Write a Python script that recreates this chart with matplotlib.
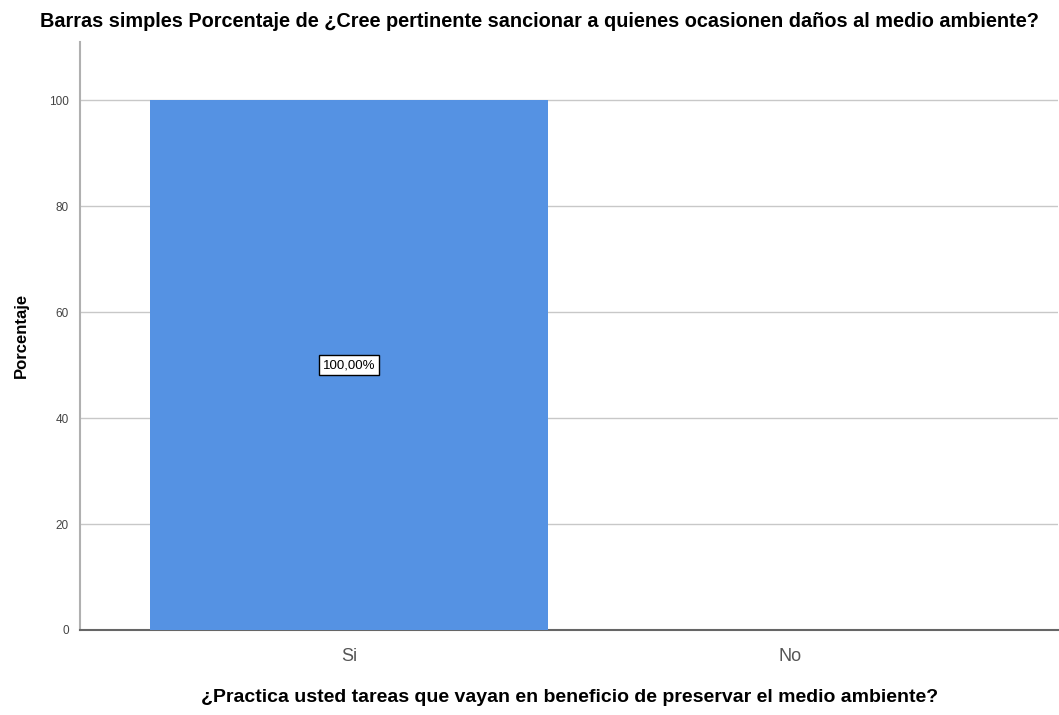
import matplotlib.pyplot as plt

categorias = ['Si', 'No']
porcentajes = [100.0, 0.0]
etiquetas = ['100,00%', None]
yticks = [0, 20, 40, 60, 80, 100]

fuente = 'Liberation Sans'

fig = plt.figure(figsize=(10.59, 7.15), dpi=100)
ax = fig.add_axes([0.0755, 0.119, 0.9235, 0.822])

x = list(range(len(categorias)))
ax.bar(x, porcentajes, width=0.90, color='#5592e3', zorder=3)
for xi, v, lab in zip(x, porcentajes, etiquetas):
    if lab:
        ax.text(xi, v / 2, lab, ha='center', va='center', fontsize=9.5, family=fuente,
                bbox=dict(boxstyle='square,pad=0.3', fc='white', ec='black', lw=1), zorder=4)

ax.set_xlim(-0.609, 1.606)
ax.set_ylim(0, 111)
ax.set_yticks(yticks)
ax.set_yticklabels([str(t) for t in yticks], fontsize=8.5, color='#444444', family=fuente)
ax.set_xticks(x)
ax.set_xticklabels(categorias, fontsize=13, color='#555555', family=fuente)
ax.tick_params(axis='both', length=0)
ax.tick_params(axis='y', pad=8)
ax.tick_params(axis='x', pad=13)
ax.yaxis.grid(True, color='#c8c8c8', lw=1, zorder=0)

for s in ['top', 'right']:
    ax.spines[s].set_visible(False)
ax.spines['left'].set_color('#b0b0b0')
ax.spines['left'].set_linewidth(1.5)
ax.spines['bottom'].set_color('#666666')
ax.spines['bottom'].set_linewidth(1.5)

fig.text(0.020, 0.531, 'Porcentaje', rotation=90, fontsize=12, fontweight='bold', family=fuente,
         ha='center', va='center')
fig.text(0.538, 0.024, '¿Practica usted tareas que vayan en beneficio de preservar el medio ambiente?',
         fontsize=14, fontweight='bold', family=fuente, ha='center', va='center')
fig.text(0.0378, 0.970, 'Barras simples Porcentaje de ¿Cree pertinente sancionar a quienes ocasionen daños al medio ambiente?',
         fontsize=14.3, fontweight='bold', family=fuente, ha='left', va='center')

fig.savefig('out.png', dpi=100)
